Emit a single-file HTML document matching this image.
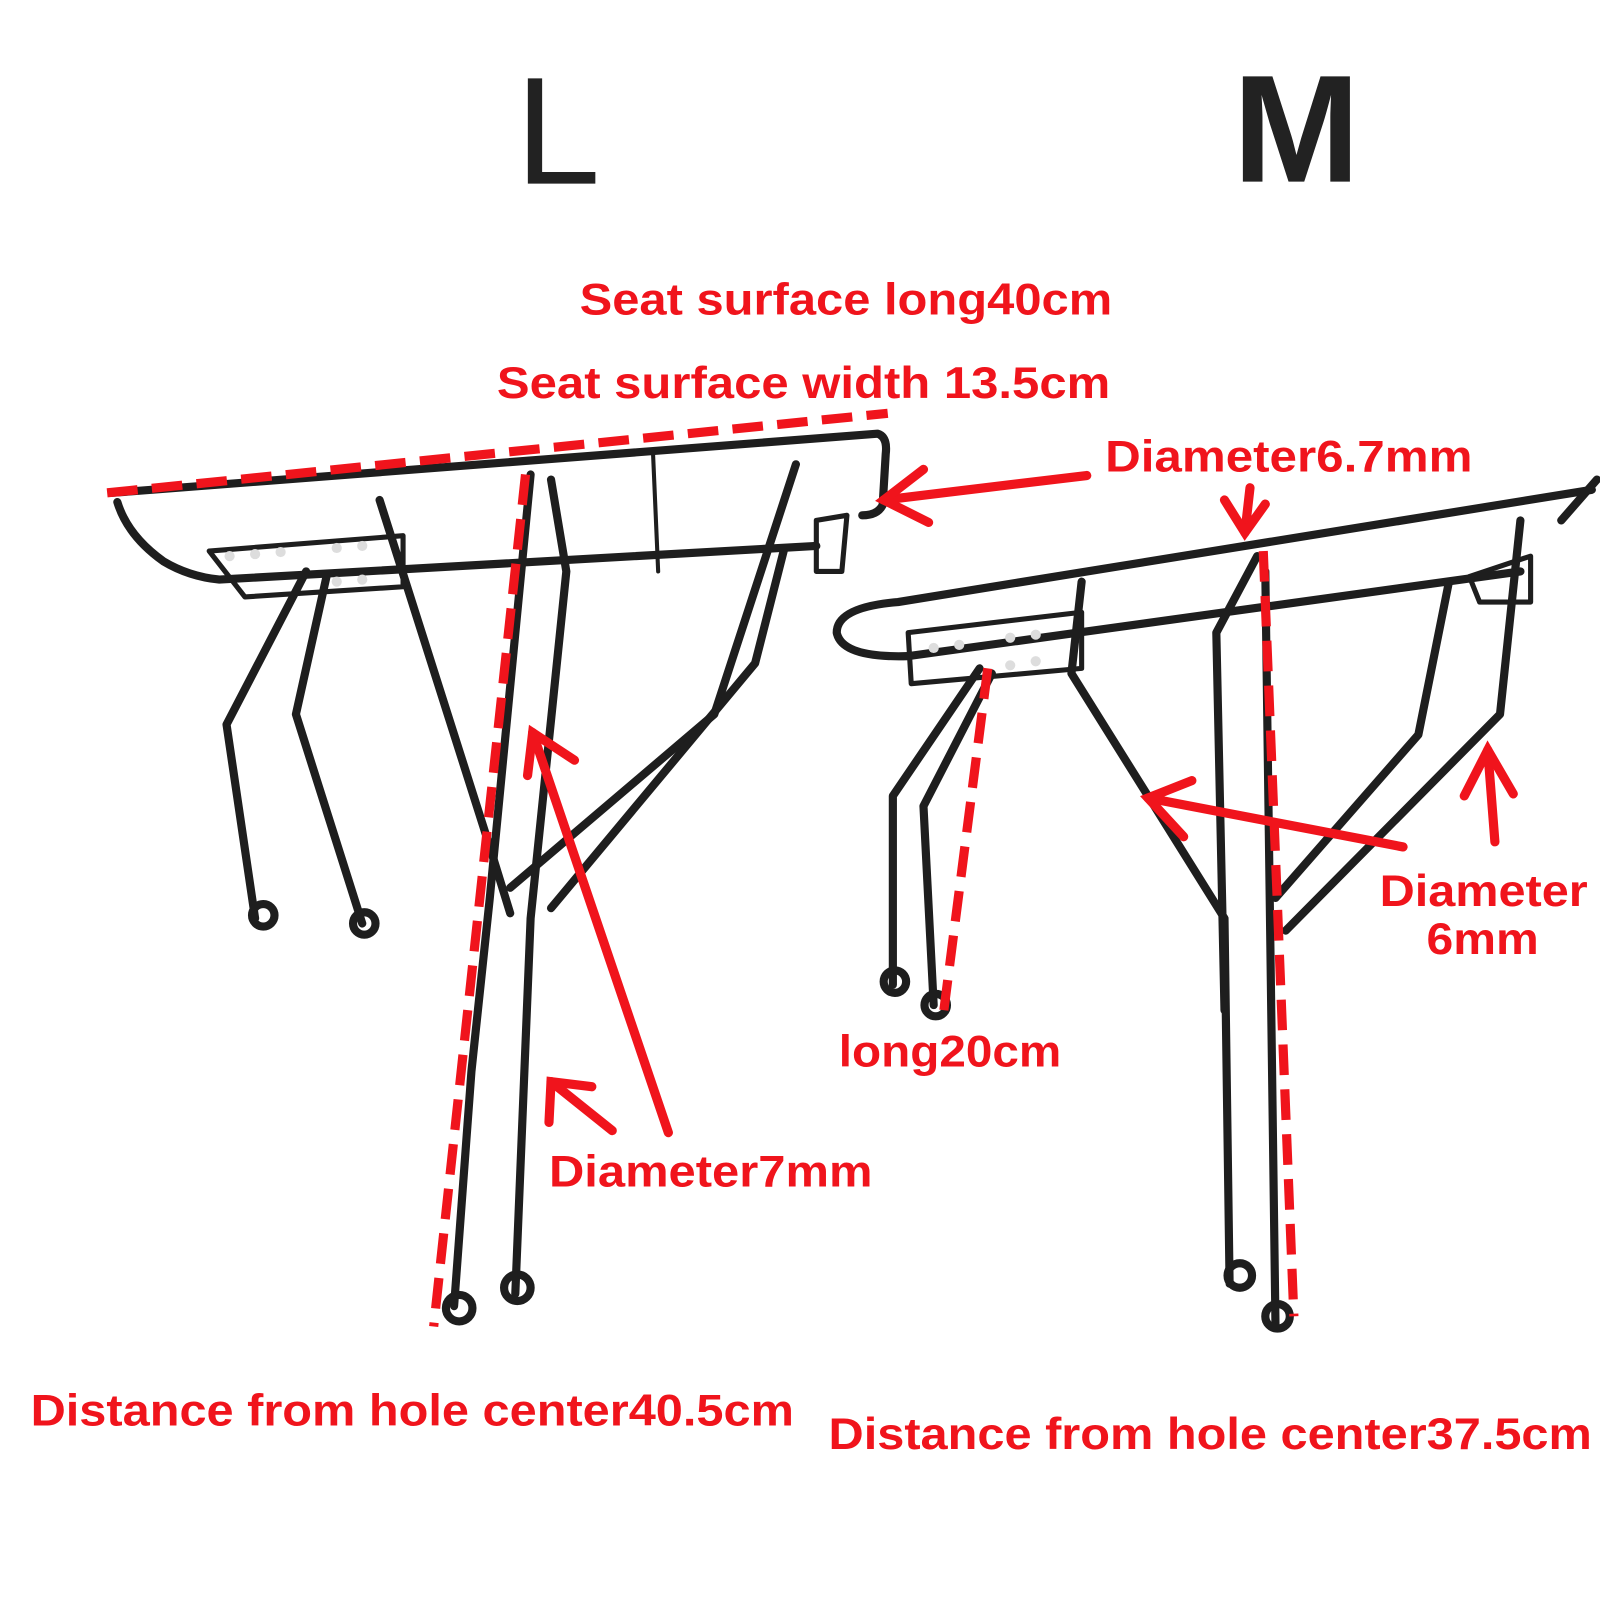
<!DOCTYPE html>
<html><head><meta charset="utf-8"><style>
html,body{margin:0;padding:0;background:#fff;}
svg{display:block}
</style></head><body>
<svg width="1600" height="1600" viewBox="0 0 1568 1568" xmlns="http://www.w3.org/2000/svg">
<rect width="1568" height="1568" fill="#fff"/>
<g font-family="Liberation Sans, Arial, sans-serif">
<text x="505" y="180" font-size="150" fill="#222">L</text>
<text x="1208" y="178" font-size="150" fill="#222" font-weight="bold">M</text>
</g>
<!-- L rack -->
<g fill="none" stroke="#1e1e1e" stroke-width="8" stroke-linecap="round" stroke-linejoin="round">
<path d="M110,483 L860,425 Q870,428 868,445 L865,495 Q860,505 845,505"/>
<path d="M115,492 Q125,525 160,550 Q185,565 215,568 L800,535"/>
<path d="M205,540 L395,525 L395,575 L240,585 Z" stroke-width="5"/>
<path d="M300,560 L222,710 L250,900"/>
<path d="M320,565 L290,700 L355,905"/>
<path d="M372,490 L480,830 L500,895"/>
<path d="M520,465 L480,880 L462,1050 L445,1280"/>
<path d="M540,470 L555,560 L520,900 L505,1268"/>
<path d="M780,455 L700,700 L500,870"/>
<path d="M768,540 L740,650 L540,890"/>
<path d="M800,510 L830,505 L825,560 L800,560 Z" stroke-width="5"/>
<path d="M640,445 L645,560" stroke-width="4"/>
<circle cx="258" cy="897" r="11"/><circle cx="357" cy="905" r="11"/>
<circle cx="450" cy="1282" r="13"/><circle cx="507" cy="1262" r="13"/>
</g>
<g fill="#ddd"><circle cx="225" cy="545" r="5"/><circle cx="250" cy="543" r="5"/><circle cx="275" cy="541" r="5"/><circle cx="330" cy="537" r="5"/><circle cx="355" cy="535" r="5"/><circle cx="330" cy="570" r="5"/><circle cx="355" cy="568" r="5"/></g>
<!-- M rack -->
<g fill="none" stroke="#1e1e1e" stroke-width="8" stroke-linecap="round" stroke-linejoin="round">
<path d="M1560,480 L880,590 Q820,595 820,620 Q825,645 890,643 L1490,560"/>
<path d="M1530,510 L1565,470"/>
<path d="M890,620 L1060,600 L1060,655 L893,670 Z" stroke-width="5"/>
<path d="M960,655 L875,780 L875,965"/>
<path d="M972,660 L905,790 L915,985"/>
<path d="M1060,570 L1050,660 L1200,900 L1205,1258"/>
<path d="M1232,545 L1192,620 L1200,990"/>
<path d="M1240,560 L1250,1300"/>
<path d="M1490,510 L1470,700 L1260,912"/>
<path d="M1420,570 L1390,720 L1250,880"/>
<path d="M1440,565 L1500,545 L1500,590 L1450,590 Z" stroke-width="5"/>
<circle cx="877" cy="962" r="11"/><circle cx="917" cy="985" r="11"/>
<circle cx="1215" cy="1250" r="12"/><circle cx="1252" cy="1290" r="12"/>
</g>
<g fill="#ddd"><circle cx="915" cy="635" r="5"/><circle cx="940" cy="632" r="5"/><circle cx="990" cy="625" r="5"/><circle cx="1015" cy="622" r="5"/><circle cx="990" cy="652" r="5"/><circle cx="1015" cy="648" r="5"/></g>
<!-- red dashed -->
<g stroke="#f0141c" stroke-width="9" fill="none" stroke-dasharray="30,14">
<path d="M105,483 L870,405"/>
<path d="M515,465 L425,1300"/>
<path d="M1238,540 L1268,1290"/>
<path d="M968,655 L925,990"/>
</g>
<!-- arrows -->
<g stroke="#f0141c" stroke-width="9" fill="none" stroke-linecap="round">
<path d="M1065,466 L866,490"/><path d="M905,460 L866,490 L910,512"/>
<path d="M1225,478 L1220,522"/><path d="M1200,490 L1220,522 L1240,494"/>
<path d="M655,1110 L522,718"/><path d="M517,760 L522,718 L563,745"/>
<path d="M600,1108 L540,1060"/><path d="M538,1100 L540,1060 L580,1065"/>
<path d="M1375,830 L1125,782"/><path d="M1160,820 L1125,782 L1168,765"/>
<path d="M1465,825 L1458,735"/><path d="M1435,780 L1458,735 L1483,778"/>
</g>
<g font-family="Liberation Sans, Arial, sans-serif" fill="#f0141c" font-size="44" font-weight="bold">
<text x="568" y="308" textLength="522" lengthAdjust="spacingAndGlyphs">Seat surface long40cm</text>
<text x="487" y="390" textLength="601" lengthAdjust="spacingAndGlyphs">Seat surface width 13.5cm</text>
<text x="1083" y="462" textLength="360" lengthAdjust="spacingAndGlyphs">Diameter6.7mm</text>
<text x="1352" y="888" textLength="204" lengthAdjust="spacingAndGlyphs">Diameter</text>
<text x="1398" y="935" textLength="110" lengthAdjust="spacingAndGlyphs">6mm</text>
<text x="822" y="1045" textLength="218" lengthAdjust="spacingAndGlyphs">long20cm</text>
<text x="538" y="1163" textLength="317" lengthAdjust="spacingAndGlyphs">Diameter7mm</text>
<text x="30" y="1397" textLength="748" lengthAdjust="spacingAndGlyphs">Distance from hole center40.5cm</text>
<text x="812" y="1420" textLength="748" lengthAdjust="spacingAndGlyphs">Distance from hole center37.5cm</text>
</g>
</svg>
</body></html>
